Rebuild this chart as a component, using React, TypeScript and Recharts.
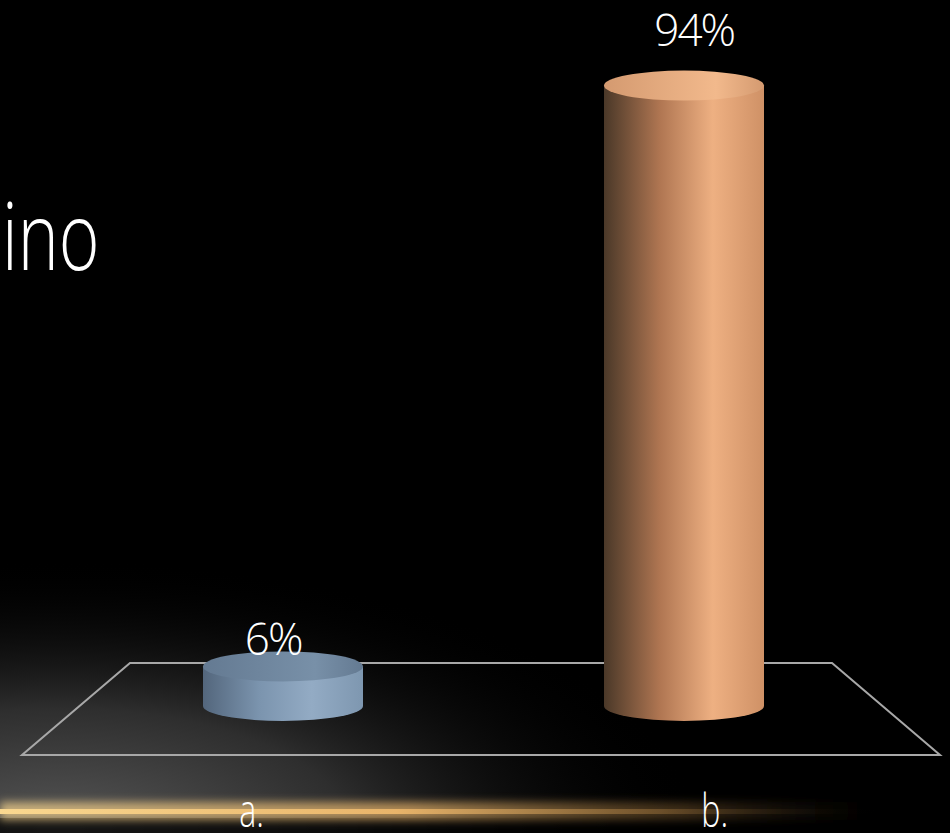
import React from 'react';
import { BarChart, Bar, XAxis, YAxis, LabelList } from 'recharts';

const categories = ['a.', 'b.'];
const values = [6, 94];
const sideColors = [
  ['#53667c', '#7b94ae', '#93abc4', '#7e97b0'],
  ['#4a3828', '#b07652', '#eeb082', '#cf9166'],
];
const topColors = [
  ['#647a92', '#7890a8'],
  ['#d49a70', '#f2b98c'],
];

const data = categories.map((name, i) => ({ name, value: values[i] }));

const Cylinder = (props: any) => {
  const { x, y, width, height, index } = props;
  const rx = width / 2;
  const ry = 15;
  const cx = x + rx;
  const side = sideColors[index];
  const top = topColors[index];
  const body = `M ${x},${y} L ${x},${y + height} A ${rx} ${ry} 0 0 0 ${x + width},${y + height} L ${x + width},${y} Z`;
  return (
    <g>
      <defs>
        <linearGradient id={`side-${index}`} x1="0" y1="0" x2="1" y2="0">
          <stop offset="0%" stopColor={side[0]} />
          <stop offset="35%" stopColor={side[1]} />
          <stop offset="68%" stopColor={side[2]} />
          <stop offset="100%" stopColor={side[3]} />
        </linearGradient>
        <linearGradient id={`top-${index}`} x1="0" y1="0" x2="1" y2="0">
          <stop offset="0%" stopColor={top[0]} />
          <stop offset="70%" stopColor={top[1]} />
          <stop offset="100%" stopColor={top[0]} />
        </linearGradient>
      </defs>
      <path d={body} fill={`url(#side-${index})`} />
      <ellipse cx={cx} cy={y} rx={rx} ry={ry} fill={`url(#top-${index})`} />
    </g>
  );
};

// labels drift outward a little, like the 3D perspective in the original
const PctLabel = (props: any) => {
  const { x, y, width, height, value } = props;
  const cx = x + width / 2;
  return (
    <text
      x={cx + (cx - 480) * 0.05}
      y={y - (9 + height * 0.05)}
      textAnchor="middle"
      fill="#fff"
      fontSize={44}
      fontWeight={300}
      letterSpacing={-2}
      fontFamily="'Open Sans', sans-serif"
    >
      {value}%
    </text>
  );
};

const CategoryTick = (props: any) => {
  const { x, y, payload } = props;
  const tx = x + (x - 482) * 0.155;
  return (
    <text
      transform={`translate(${tx},${y + 121}) scale(0.7,1)`}
      textAnchor="middle"
      fill="#fff"
      fontSize={46}
      fontWeight={300}
      fontFamily="'Open Sans', sans-serif"
    >
      {payload.value}
    </text>
  );
};

export default function App() {
  return (
    <div style={{ position: 'absolute', left: 0, top: 0, width: 950, height: 833, background: '#000', overflow: 'hidden' }}>
      <svg width={950} height={833} style={{ position: 'absolute', left: 0, top: 0 }}>
        <defs>
          <radialGradient id="glow" cx="0.5" cy="0.5" r="0.5">
            <stop offset="0%" stopColor="#565656" />
            <stop offset="45%" stopColor="#2e2e2e" />
            <stop offset="100%" stopColor="#000" stopOpacity={0} />
          </radialGradient>
          <linearGradient id="gold" x1="0" y1="0" x2="1" y2="0">
            <stop offset="0%" stopColor="#fad890" />
            <stop offset="45%" stopColor="#e8b46a" />
            <stop offset="75%" stopColor="#8a6535" stopOpacity={0.6} />
            <stop offset="100%" stopColor="#000" stopOpacity={0} />
          </linearGradient>
          <filter id="blur" x="-10%" y="-200%" width="120%" height="500%">
            <feGaussianBlur stdDeviation="4" />
          </filter>
        </defs>
        <ellipse cx={60} cy={830} rx={640} ry={270} fill="url(#glow)" />
        <rect x={0} y={818} width={950} height={15} fill="#000" opacity={0.75} />
        <rect x={0} y={802} width={910} height={18} fill="url(#gold)" opacity={0.7} filter="url(#blur)" />
        <rect x={0} y={809} width={880} height={5} fill="url(#gold)" />
        <polygon points="130,663 832,663 940,755 22,755" fill="none" stroke="#a8a8a8" strokeWidth={2} />
        <text
          transform="translate(2,270) scale(0.74,1)"
          fill="#fff"
          fontSize={94}
          fontWeight={300}
          fontFamily="'Open Sans', sans-serif"
        >
          ino
        </text>
      </svg>
      <BarChart
        width={950}
        height={833}
        data={data}
        margin={{ top: 46, right: 66, bottom: 0, left: 82 }}
        style={{ position: 'absolute', left: 0, top: 0 }}
      >
        <XAxis
          dataKey="name"
          axisLine={false}
          tickLine={false}
          tickSize={0}
          tickMargin={0}
          height={127}
          interval={0}
          tick={<CategoryTick />}
        />
        <YAxis hide domain={[0, 100]} />
        <Bar dataKey="value" barSize={160} shape={<Cylinder />} isAnimationActive={false}>
          <LabelList dataKey="value" content={<PctLabel />} />
        </Bar>
      </BarChart>
    </div>
  );
}
